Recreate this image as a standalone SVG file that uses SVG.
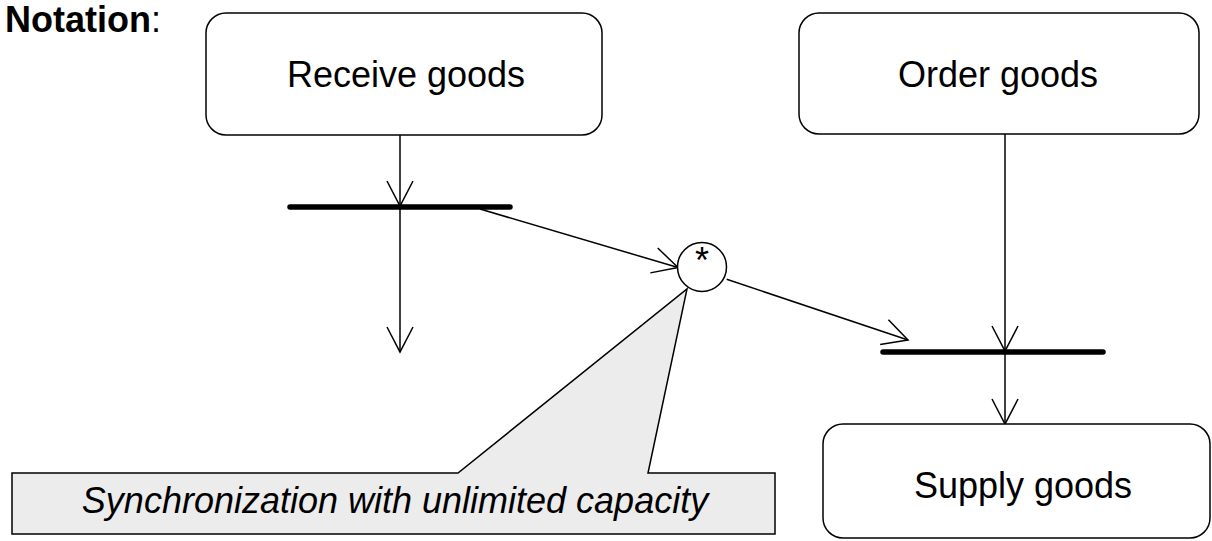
<svg xmlns="http://www.w3.org/2000/svg" width="1212" height="541" viewBox="0 0 1212 541">
  <style>
    .node { fill: #ffffff; stroke: #000000; stroke-width: 1.5; }
    .label { font-family: "Liberation Sans", Arial, sans-serif; font-size: 36px; fill: #000000; text-anchor: middle; }
    .edge { fill: none; stroke: #000000; stroke-width: 1.5; }
    .bar { stroke: #000000; stroke-width: 5.5; stroke-linecap: round; }
    .note { fill: #ececec; stroke: #000000; stroke-width: 1.5; stroke-linejoin: miter; }
  </style>
  <defs>
    <marker id="open-arrow" markerUnits="userSpaceOnUse" markerWidth="30" markerHeight="30" viewBox="-28 -15 30 30" refX="0" refY="0" orient="auto">
      <path d="M-25,-13 L0,0 L-25,13" fill="none" stroke="#000000" stroke-width="1.5"/>
    </marker>
  </defs>

  <rect width="1212" height="541" fill="#ffffff"/>

  <!-- heading -->
  <text x="5" y="32" font-family="Liberation Sans, Arial, sans-serif" font-size="36" fill="#000000"><tspan font-weight="bold">Notation</tspan>:</text>

  <!-- explanatory note with pointer to the synchronization circle -->
  <g id="note">
    <path class="note" d="M12,473 H458 L687,289 L648,473 H775 V534 H12 Z"/>
    <text x="395" y="513" class="label" font-style="italic">Synchronization with unlimited capacity</text>
  </g>

  <!-- connectors -->
  <g id="connectors">
    <line class="edge" x1="400" y1="135" x2="400" y2="206" marker-end="url(#open-arrow)"/>
    <line class="edge" x1="400" y1="207" x2="400" y2="352" marker-end="url(#open-arrow)"/>
    <line class="edge" x1="480" y1="209" x2="678" y2="267.5" marker-end="url(#open-arrow)"/>
    <line class="edge" x1="726.7" y1="279.3" x2="908" y2="340" marker-end="url(#open-arrow)"/>
    <line class="edge" x1="1005" y1="134" x2="1005" y2="351" marker-end="url(#open-arrow)"/>
    <line class="edge" x1="1005" y1="352" x2="1005" y2="424" marker-end="url(#open-arrow)"/>
  </g>

  <g id="receive-goods">
    <rect class="node" x="206" y="13" width="396" height="122" rx="20" ry="20"/>
    <text x="406" y="87" class="label">Receive goods</text>
  </g>

  <g id="order-goods">
    <rect class="node" x="799" y="13" width="400" height="121" rx="20" ry="20"/>
    <text x="998" y="87" class="label">Order goods</text>
  </g>

  <g id="supply-goods">
    <rect class="node" x="823" y="424" width="387" height="114" rx="20" ry="20"/>
    <text x="1023" y="498" class="label">Supply goods</text>
  </g>

  <g id="fork-bar">
    <line class="bar" x1="290" y1="207" x2="510" y2="207"/>
  </g>

  <g id="join-bar">
    <line class="bar" x1="883" y1="352" x2="1103" y2="352"/>
  </g>

  <g id="sync-circle">
    <circle class="node" cx="702" cy="267" r="24.5"/>
    <text x="702" y="273" class="label" font-size="24">*</text>
  </g>
</svg>
